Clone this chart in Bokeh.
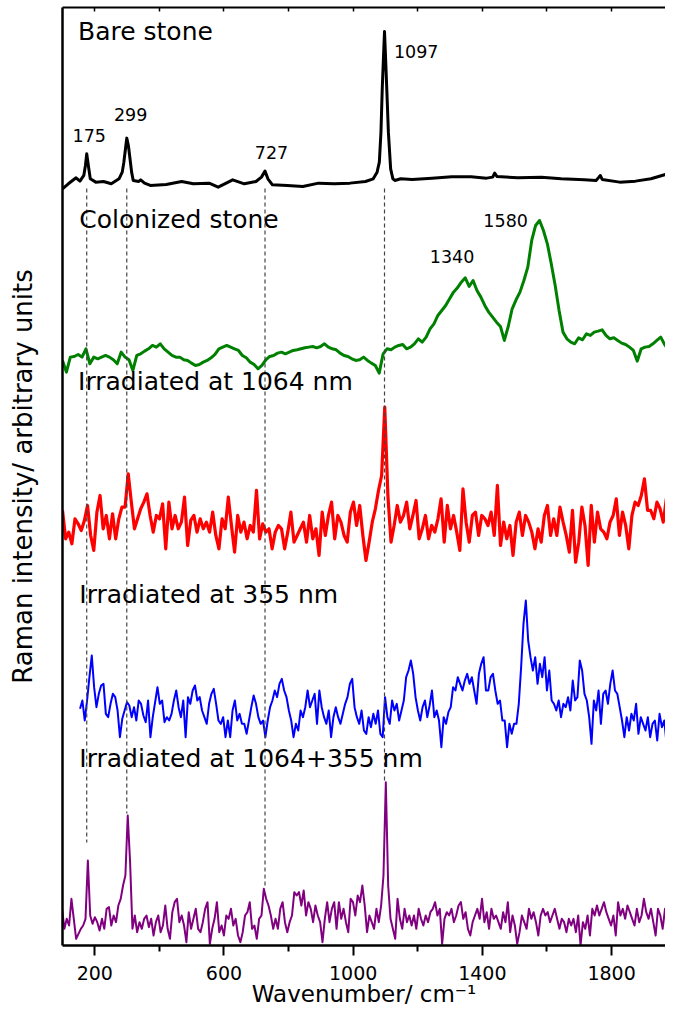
import numpy as np
from bokeh.plotting import figure
from bokeh.models import Range1d, LinearAxis, FixedTicker
from bokeh.core.properties import value
from bokeh.embed import file_html
from bokeh.resources import INLINE

FONT = "DejaVu Sans"

# ---------------- data (wavenumber in cm-1, intensity in arbitrary units) ----------------
# Bare stone (irregularly sampled readings)
bare_x = [100, 118, 142, 154, 166, 171, 175, 180, 186, 203, 227, 251, 275, 285, 290, 295, 299, 304, 309, 314,
          319, 336, 342, 354, 372, 421, 469, 505, 554, 582, 627, 663, 699, 716, 727, 736, 750, 796, 844, 893,
          941, 990, 1038, 1062, 1074, 1081, 1086, 1090, 1094, 1097, 1100, 1104, 1109, 1116, 1123, 1129, 1147, 1183, 1244, 1305,
          1365, 1413, 1432, 1438, 1445, 1510, 1583, 1644, 1716, 1752, 1761, 1765, 1771, 1825, 1874, 1922, 1964, 1992]
bare_i = [0, 15, 33, 23, 40, 70, 105, 70, 30, 20, 22, 15, 30, 50, 80, 120, 152, 130, 90, 50,
          25, 22, 27, 17, 10, 13, 22, 15, 17, 5, 27, 15, 22, 35, 53, 30, 12, 10, 7, 17,
          15, 17, 22, 30, 50, 80, 170, 300, 400, 472, 400, 300, 170, 60, 30, 25, 30, 28, 32, 36,
          36, 32, 35, 47, 37, 33, 35, 30, 27, 25, 35, 40, 28, 20, 23, 30, 42, 50]

# Colonized stone (regular sampling 100 ... 1988.6 cm-1)
colon_range = (100.0, 1988.6)
colon_i = [40, 5, 50, 52, 58, 50, 75, 30, 50, 45,
           50, 55, 50, 42, 30, 65, 50, 42, 10, 55,
           60, 68, 75, 85, 80, 90, 75, 65, 55, 50,
           50, 42, 40, 32, 25, 28, 35, 40, 48, 58,
           75, 80, 85, 80, 75, 70, 55, 48, 35, 28,
           15, 25, 42, 52, 55, 62, 65, 60, 65, 70,
           72, 75, 78, 80, 82, 78, 82, 90, 80, 75,
           72, 62, 55, 52, 45, 40, 42, 50, 40, 32,
           25, 2, 60, 75, 72, 80, 85, 88, 75, 80,
           90, 105, 95, 110, 135, 150, 175, 190, 205, 225,
           245, 258, 275, 288, 262, 280, 250, 230, 205, 185,
           170, 155, 142, 100, 142, 195, 222, 245, 280, 320,
           400, 445, 460, 430, 390, 330, 265, 190, 125, 105,
           95, 90, 108, 102, 120, 115, 125, 128, 132, 115,
           105, 108, 100, 92, 88, 80, 70, 38, 75, 80,
           82, 90, 100, 110, 88, 70, 55]

# Irradiated at 1064 nm (regular sampling 100 ... 1989 cm-1)
ir1064_range = (100.0, 1989.0)
ir1064_i = [175, 90, 110, 75, 150, 135, 115, 145, 190, 100,
            55, 170, 220, 120, 160, 90, 165, 90, 150, 185,
            185, 285, 200, 120, 150, 180, 200, 225, 160, 110,
            160, 150, 195, 60, 200, 120, 160, 120, 140, 215,
            70, 145, 160, 110, 150, 120, 140, 110, 170, 100,
            60, 150, 120, 215, 130, 50, 160, 110, 140, 90,
            130, 110, 235, 90, 135, 110, 120, 60, 110, 130,
            120, 60, 110, 170, 80, 100, 120, 140, 80, 160,
            90, 120, 40, 170, 100, 160, 200, 90, 160, 140,
            100, 80, 170, 200, 130, 190, 100, 25, 80, 140,
            180, 235, 280, 485, 220, 80, 130, 190, 140, 160,
            200, 120, 160, 205, 90, 120, 160, 90, 130, 110,
            150, 210, 80, 190, 120, 160, 110, 55, 240, 140,
            80, 160, 170, 100, 160, 150, 130, 170, 100, 250,
            70, 140, 90, 130, 40, 140, 170, 100, 160, 140,
            110, 60, 120, 80, 160, 190, 100, 150, 100, 185,
            140, 100, 50, 175, 20, 80, 185, 130, 10, 190,
            80, 170, 120, 110, 90, 140, 160, 210, 100, 170,
            130, 60, 160, 200, 190, 220, 270, 175, 175, 150,
            200, 180, 140, 210, 235, 150]

# Irradiated at 355 nm (regular sampling 154.3 ... 1992.2 cm-1)
ir355_range = (154.3, 1992.2)
ir355_i = [125, 150, 90, 150, 220, 285, 190, 130, 170, 195,
           200, 110, 100, 140, 170, 160, 120, 40, 95, 120,
           145, 135, 100, 130, 90, 150, 140, 105, 85, 150,
           40, 100, 145, 190, 140, 150, 85, 100, 90, 110,
           150, 180, 130, 100, 150, 40, 160, 140, 180, 195,
           150, 160, 120, 100, 80, 140, 170, 185, 140, 90,
           80, 100, 40, 90, 40, 120, 150, 90, 110, 80,
           80, 50, 90, 130, 165, 140, 100, 80, 90, 40,
           90, 130, 150, 180, 160, 200, 215, 180, 160, 120,
           90, 40, 80, 60, 120, 100, 130, 180, 130, 150,
           170, 80, 180, 130, 100, 80, 120, 40, 100, 130,
           100, 80, 110, 140, 160, 200, 215, 130, 100, 80,
           120, 60, 50, 100, 70, 110, 80, 120, 50, 40,
           160, 100, 80, 150, 120, 140, 90, 120, 150, 220,
           240, 270, 230, 160, 120, 90, 130, 150, 100, 135,
           180, 100, 120, 90, 10, 100, 80, 115, 130, 190,
           180, 220, 200, 180, 210, 230, 200, 220, 180, 140, 230,
           260, 280, 180, 180, 220, 230, 180, 140, 150, 90,
           90, 10, 80, 50, 80, 80, 140, 250, 380, 450,
           330, 280, 240, 280, 200, 260, 220, 280, 180, 240,
           150, 140, 120, 150, 100, 140, 130, 160, 120, 210,
           150, 160, 270, 240, 170, 150, 100, 20, 150, 120,
           180, 80, 170, 180, 140, 200, 240, 180, 170, 130,
           90, 40, 100, 60, 110, 90, 140, 50, 100, 80,
           60, 100, 40, 80, 90, 30, 110, 70, 90, 20,
           80, 70, 100]

# Irradiated at 1064+355 nm (regular sampling 98.6 ... 1987.3 cm-1)
ir_both_range = (98.6, 1987.3)
ir_both_i = [110, 50, 80, 60, 140, 80, 20, 35, 50, 60,
             80, 255, 90, 65, 85, 70, 45, 80, 50, 110,
             115, 60, 90, 70, 120, 140, 180, 210, 390, 250,
             50, 90, 40, 70, 50, 80, 90, 55, 80, 30,
             70, 90, 40, 60, 120, 50, 20, 100, 130, 140,
             70, 90, 60, 10, 100, 50, 80, 110, 50, 40,
             70, 110, 130, 5, 50, 80, 130, 40, 60, 30,
             90, 80, 110, 60, 80, 30, 10, 40, 90, 100,
             130, 50, 60, 20, 80, 90, 170, 140, 120, 90,
             50, 80, 50, 110, 130, 70, 40, 70, 90, 160,
             150, 160, 120, 165, 90, 130, 110, 70, 120, 90,
             70, 10, 80, 130, 70, 110, 130, 50, 130, 80,
             110, 70, 40, 140, 130, 90, 150, 130, 180, 120,
             40, 90, 70, 50, 110, 70, 120, 210, 490, 180,
             80, 50, 20, 140, 80, 50, 110, 70, 90, 60,
             90, 50, 110, 80, 60, 90, 70, 100, 110, 130,
             90, 110, 5, 80, 100, 90, 110, 70, 90, 120,
             130, 80, 100, 50, 30, 70, 90, 110, 80, 140,
             70, 100, 50, 110, 80, 90, 70, 50, 100, 70,
             130, 40, 90, 60, 5, 40, 90, 70, 50, 110,
             80, 100, 70, 30, 90, 110, 90, 100, 70, 90,
             110, 80, 50, 80, 70, 40, 80, 60, 80, 40,
             90, 0, 70, 50, 90, 30, 110, 90, 120, 90,
             110, 130, 100, 80, 60, 90, 30, 130, 90, 110,
             80, 120, 100, 80, 60, 110, 70, 90, 140, 100,
             80, 110, 70, 30, 110, 90, 50, 110, 70, 100, 140]

# stacking offsets and common scale of the spectra
spectra_names = ["Bare stone", "Colonized stone", "Irradiated at 1064 nm",
                 "Irradiated at 355 nm", "Irradiated at 1064+355 nm"]
offsets = [756.7, 571.7, 376.7, 195.0, 0.0]
scale = 1.0 / 3.0
colors = ["black", "#008000", "#ff0000", "#0000ff", "#800080"]
widths = [3.0, 3.0, 3.2, 2.0, 2.0]

# peak positions marked by dashed guides, and guide extent (stack units)
guide_peaks = [175, 299, 727, 1097]
guide_top = [757, 757, 757, 757]
guide_bottom = [103, 132, 60, 163]

# peak annotations
peak_text = ["175", "299", "727", "1097", "1340", "1580"]
peak_x = [183, 311, 747, 1195, 1306, 1472]
peak_y = [810, 831, 793, 894, 689, 725]

# spectrum label anchors
name_x = [148, 152, 148, 152, 152]
name_y = [914, 726, 564, 351, 187]

x_major = [200, 600, 1000, 1400, 1800]
x_minor = [400, 800, 1200, 1600]
x_all = [200, 400, 600, 800, 1000, 1200, 1400, 1600, 1800]

# ---------------- figure ----------------
p = figure(width=665, height=1012, x_range=Range1d(100, 1967), y_range=Range1d(0, 938),
           output_backend="svg", toolbar_location=None,
           x_axis_location=None, y_axis_location=None,
           min_border_left=62, min_border_right=0, min_border_top=7, min_border_bottom=67)
p.outline_line_color = None
p.grid.grid_line_color = None
p.background_fill_color = "white"

xs = [np.array(bare_x, dtype=float),
      np.linspace(colon_range[0], colon_range[1], len(colon_i)),
      np.linspace(ir1064_range[0], ir1064_range[1], len(ir1064_i)),
      np.linspace(ir355_range[0], ir355_range[1], len(ir355_i)),
      np.linspace(ir_both_range[0], ir_both_range[1], len(ir_both_i))]
ints = [bare_i, colon_i, ir1064_i, ir355_i, ir_both_i]

for x, inten, off, c, w in zip(xs, ints, offsets, colors, widths):
    y = off + np.array(inten, dtype=float) * scale
    p.line(x, y, line_color=c, line_width=w, line_join="round")

p.segment(x0=guide_peaks, x1=guide_peaks, y0=guide_top, y1=guide_bottom,
          line_color="#444444", line_width=1.2, line_dash="4 3")

p.text(x=name_x, y=name_y, text=spectra_names, text_font=value(FONT),
       text_font_size="25px", text_color="black", text_align="left", text_baseline="alphabetic")
p.text(x=peak_x, y=peak_y, text=peak_text, text_font=value(FONT),
       text_font_size="17.5px", text_color="black", text_align="center", text_baseline="alphabetic")

xb = LinearAxis(ticker=FixedTicker(ticks=x_major, minor_ticks=x_minor))
xb.axis_label = "Wavenumber/ cm\u207b\u00b9"
xb.axis_label_text_font = FONT
xb.axis_label_text_font_size = "23px"
xb.axis_label_text_font_style = "normal"
xb.axis_label_text_color = "black"
xb.axis_label_standoff = -2
xb.major_label_text_font = FONT
xb.major_label_text_font_size = "19px"
xb.major_label_text_color = "black"
xb.major_label_standoff = 10
xb.axis_line_width = 2.5
xb.axis_line_color = "black"
xb.major_tick_line_width = 2
xb.minor_tick_line_width = 2
xb.major_tick_out = 10
xb.major_tick_in = 0
xb.minor_tick_out = 6
xb.minor_tick_in = 0
p.add_layout(xb, "below")

# top frame line with small inward ticks (no labels)
xt = LinearAxis(ticker=FixedTicker(ticks=[], minor_ticks=x_all))
xt.major_label_standoff = 0
xt.axis_line_width = 2
xt.major_tick_in = 0
xt.major_tick_out = 0
xt.minor_tick_in = 4
xt.minor_tick_out = 0
xt.minor_tick_line_width = 1.5
p.add_layout(xt, "above")

yl = LinearAxis(ticker=FixedTicker(ticks=[]))
yl.axis_label = "Raman intensity/ arbitrary units"
yl.axis_label_text_font = FONT
yl.axis_label_text_font_size = "26px"
yl.axis_label_text_font_style = "normal"
yl.axis_label_text_color = "black"
yl.axis_label_standoff = 25
yl.major_tick_out = 0
yl.major_tick_in = 0
yl.minor_tick_out = 0
yl.minor_tick_in = 0
yl.major_label_standoff = 0
yl.axis_line_width = 2.5
p.add_layout(yl, "left")

open("out.html", "w").write(file_html(p, INLINE))
